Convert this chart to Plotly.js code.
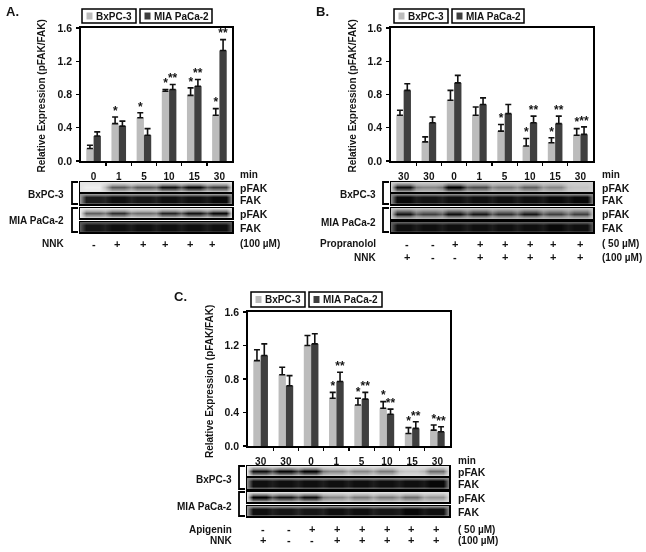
<!DOCTYPE html>
<html><head><meta charset="utf-8">
<script src="https://cdn.plot.ly/plotly-3.0.1.min.js"></script>
<style>html,body{margin:0;padding:0;background:#fff}#g{width:646px;height:552px;filter:blur(0.45px)}</style>
</head><body><div id="g"></div>
<script>
// ---------- data ----------
const legendNames = ['BxPC-3', 'MIA PaCa-2'];
const aLabels = ['0','1','5','10','15','30'];
const aBx  = [0.15,0.45,0.52,0.84,0.79,0.55];
const aBxE = [0.04,0.08,0.06,0.02,0.09,0.08];
const aMi  = [0.30,0.42,0.31,0.86,0.90,1.33];
const aMiE = [0.05,0.06,0.08,0.06,0.08,0.13];
const aBxS = ['','*','*','*','*','*'];
const aMiS = ['','','','**','**','**'];
const bLabels = ['30','30','0','1','5','10','15','30'];
const bBx  = [0.55,0.23,0.73,0.55,0.36,0.18,0.22,0.31];
const bBxE = [0.06,0.06,0.12,0.10,0.08,0.09,0.06,0.08];
const bMi  = [0.85,0.46,0.94,0.68,0.57,0.46,0.45,0.32];
const bMiE = [0.08,0.07,0.09,0.08,0.11,0.08,0.09,0.09];
const bBxS = ['','','','','*','*','*','*'];
const bMiS = ['','','','','','**','**','**'];
const cLabels = ['30','30','0','1','5','10','15','30'];
const cBx  = [1.02,0.85,1.20,0.57,0.49,0.45,0.15,0.19];
const cBxE = [0.13,0.09,0.12,0.07,0.08,0.08,0.07,0.06];
const cMi  = [1.08,0.72,1.22,0.77,0.56,0.38,0.21,0.17];
const cMiE = [0.14,0.12,0.12,0.11,0.08,0.06,0.08,0.06];
const cBxS = ['','','','*','*','*','*','*'];
const cMiS = ['','','','**','**','**','**','**'];
// band density per lane, and blot background density
const aBlots = [[0.06,0.62,0.62,0.9,0.95,0.75],[0.85,0.92,0.88,0.92,0.92,0.95],[0.6,0.78,0.55,0.82,0.9,0.95],[0.88,0.92,0.92,0.92,0.92,0.92]];
const aBg = [0.1,0.4,0.08,0.62];
const bBlots = [[0.92,0.45,1,0.68,0.5,0.6,0.45,0.22],[0.95,0.9,0.92,0.92,0.92,0.92,0.95,0.96],[0.9,0.72,0.92,0.88,0.78,0.88,0.72,0.72],[0.92,0.92,0.92,0.92,0.92,0.92,0.95,0.92]];
const bBg = [0.18,0.45,0.2,0.6];
const cBlots = [[0.92,0.96,0.98,0.45,0.45,0.5,0.22,0.55],[0.92,0.92,0.92,0.92,0.92,0.92,0.92,0.96],[1,0.88,0.92,0.45,0.5,0.5,0.55,0.4],[0.92,0.88,0.88,0.92,0.92,0.88,0.96,0.92]];
const cBg = [0.1,0.45,0.12,0.4];
const blotNames = ['pFAK','FAK','pFAK','FAK'];
const aNNK = ['-','+','+','+','+','+'];
const bProp = ['-','-','+','+','+','+','+','+'];
const bNNK  = ['+','-','-','+','+','+','+','+'];
const cApi  = ['-','-','+','+','+','+','+','+'];
const cNNK  = ['+','-','-','+','+','+','+','+'];
const yTicks = [0,0.4,0.8,1.2,1.6];

// ---------- layout helpers ----------
const W=646,H=552, FF='"Liberation Sans", Arial, sans-serif';
const px=x=>x/W, py=y=>1-y/H;
const LIGHT='#bcbcbc', DARK='#3f3f3f', INK='#141414';
const traces=[], annos=[], shapes=[], layout={};
function note(t,x,y,anchor,size){
  const nudge = anchor==='right'?1.5:(anchor==='center'?0:-1.5);
  annos.push({text:t,xref:'paper',yref:'paper',x:px(x+nudge),y:py(y),xanchor:anchor||'left',yanchor:'middle',showarrow:false,font:{family:FF,size:size||10,weight:700,color:INK}});
}
function panel(id,P){
  const xn='x'+id, yn='y'+id, xa='xaxis'+id, ya='yaxis'+id;
  const n=P.labels.length, idx=P.labels.map((_,i)=>i);
  [[P.bx,P.bxE,LIGHT,legendNames[0]],[P.mi,P.miE,DARK,legendNames[1]]].forEach(([v,e,c,nm])=>{
    traces.push({type:'bar',name:nm,x:idx,y:v,xaxis:xn,yaxis:yn,marker:{color:c,line:{width:0}},
      error_y:{type:'data',array:e,arrayminus:e.map(()=>0),symmetric:false,color:'#111',thickness:1.6,width:3},hoverinfo:'skip'});
  });
  [[P.bx,P.bxE,P.bxS,-0.14],[P.mi,P.miE,P.miS,0.14]].forEach(([v,e,s,o])=>{
    traces.push({type:'scatter',mode:'text',x:idx.map(i=>i+o),y:v.map((a,i)=>a+e[i]-0.01),text:s,textposition:'top center',
      textfont:{family:FF,size:12,weight:700,color:INK},xaxis:xn,yaxis:yn,hoverinfo:'skip',showlegend:false});
  });
  layout[xa]={domain:[px(P.l),px(P.r)],range:[-0.5,n-0.5],anchor:yn,tickmode:'array',tickvals:idx,ticktext:P.labels,ticks:'',
    ticklabelstandoff:5,tickfont:{family:FF,size:10,weight:700,color:INK},showgrid:false,zeroline:false,showline:true,mirror:true,linecolor:'#000',linewidth:1.8,
    minor:{tickmode:'array',tickvals:idx.slice(1).map(i=>i-0.5),ticks:'outside',ticklen:3,tickwidth:1.4,tickcolor:'#000',showgrid:false}};
  layout[ya]={domain:[py(P.b),py(P.t)],range:[0,1.6],anchor:xn,tickmode:'array',tickvals:yTicks,ticktext:yTicks.map(v=>v.toFixed(1)),ticks:'outside',ticklen:3,tickwidth:1.4,tickcolor:'#000',
    ticklabelstandoff:2,tickfont:{family:FF,size:10.5,weight:700,color:INK},showgrid:false,zeroline:false,showline:true,mirror:true,linecolor:'#000',linewidth:1.8,
    showticklabels:true};
  annos.push({text:'Relative Expression (pFAK/FAK)',xref:'paper',yref:'paper',x:px(P.titleX),y:py(P.titleY),xanchor:'center',yanchor:'middle',textangle:-90,showarrow:false,font:{family:FF,size:10,weight:700,color:INK}});
  // legend boxes
  const lg=P.legend;
  [[lg.a,lg.b,LIGHT,legendNames[0]],[lg.c,lg.d,DARK,legendNames[1]]].forEach(([x0,x1,c,nm])=>{
    shapes.push({type:'rect',xref:'paper',yref:'paper',x0:px(x0),x1:px(x1),y0:py(lg.y0),y1:py(lg.y1),line:{color:'#000',width:1.5},fillcolor:'#fff'});
    shapes.push({type:'rect',xref:'paper',yref:'paper',x0:px(x0+4.5),x1:px(x0+10.5),y0:py((lg.y0+lg.y1)/2-3.5),y1:py((lg.y0+lg.y1)/2+3.5),line:{width:0},fillcolor:c});
    note(nm,x0+13,(lg.y0+lg.y1)/2,'left',10);
  });
  note(P.letter,P.letterX,P.letterY,'left',13);
  note('min',P.rightX,P.minY,'left',10);
  // blots
  P.rows.forEach((r,k)=>{
    const bid=id*10+k, bx='x'+bid, by='y'+bid;
    const lanes=P.blots[k], bg=P.bg[k], zmid=[], gapK=k%2?0.92:0.72;
    lanes.forEach((d,i)=>{ zmid.push(i?(d+lanes[i-1])/2*gapK:bg, d, d, d); });
    zmid.push(bg);
    const xs=zmid.map((_,i)=>i/4-0.5);
    const edge=zmid.map(()=>bg);
    const half=zmid.map(d=>(d+bg)/2);
    const z = k%2 ? [edge,zmid,zmid,zmid,edge] : [edge,half,zmid,half,edge];
    traces.push({type:'heatmap',x:xs,y:[0,1,2,3,4],z:z,zmin:0,zmax:1,zsmooth:'best',showscale:false,hoverinfo:'skip',
      colorscale:[[0,'#ffffff'],[0.5,'#7a7a7a'],[0.85,'#1c1c1c'],[1,'#000000']],xaxis:bx,yaxis:by});
    const ax={showgrid:false,zeroline:false,showticklabels:false,ticks:'',showline:true,mirror:true,linecolor:'#000',linewidth:1.5};
    layout['xaxis'+bid]=Object.assign({domain:[px(P.bl),px(P.br)],range:[-0.5,n-0.5],anchor:by},ax);
    layout['yaxis'+bid]=Object.assign({domain:[py(r[1]),py(r[0])],range:[0,4],anchor:bx},ax);
    note(blotNames[k],P.rightX,(r[0]+r[1])/2+0.5,'left',10.5);
  });
  // brackets and cell-line labels
  P.brackets.forEach(([y0,y1,ly],k)=>{
    shapes.push({type:'path',xref:'paper',yref:'paper',path:`M ${px(P.bl-2)} ${py(y0)} L ${px(P.bl-8)} ${py(y0)} L ${px(P.bl-8)} ${py(y1)} L ${px(P.bl-2)} ${py(y1)}`,line:{color:'#000',width:1.8}});
    note(legendNames[k],P.nameX,ly,'right',10);
  });
  // treatment rows
  P.treat.forEach(t=>{
    note(t.name,P.nameX,t.y,'right',10);
    note(t.dose,P.rightX,t.y,'left',10);
    t.signs.forEach((s,i)=>note(s,P.signX[i],t.y,'center',11));
  });
}
panel(1,{labels:aLabels,bx:aBx,bxE:aBxE,mi:aMi,miE:aMiE,bxS:aBxS,miS:aMiS,l:81,r:232,t:28,b:161,titleX:41,titleY:96.5,
  legend:{a:82,b:136,c:140,d:212,y0:9,y1:23},letter:'A.',letterX:5,letterY:12,rightX:239,minY:175,
  bl:80,br:232,rows:[[182,192],[194,204],[208,218],[222,232]],blots:aBlots,bg:aBg,
  brackets:[[182,204,194],[208,232,220]],nameX:64,signX:[94,117,143,165,190,212],
  treat:[{name:'NNK',dose:'(100 µM)',y:244,signs:aNNK}]});
panel(2,{labels:bLabels,bx:bBx,bxE:bBxE,mi:bMi,miE:bMiE,bxS:bBxS,miS:bMiS,l:391,r:593,t:28,b:161,titleX:352,titleY:96.5,
  legend:{a:394,b:448,c:452,d:524,y0:9,y1:23},letter:'B.',letterX:315,letterY:12,rightX:601,minY:175,
  bl:391,br:593,rows:[[182,192],[194,204],[208,219],[222,232]],blots:bBlots,bg:bBg,
  brackets:[[182,204,194],[208,232,222]],nameX:376,signX:[407,433,455,480,505,530,553,580],
  treat:[{name:'Propranolol',dose:'( 50 µM)',y:244,signs:bProp},{name:'NNK',dose:'(100 µM)',y:257,signs:bNNK}]});
panel(3,{labels:cLabels,bx:cBx,bxE:cBxE,mi:cMi,miE:cMiE,bxS:cBxS,miS:cMiS,l:248,r:450,t:312,b:446,titleX:209,titleY:382,
  legend:{a:251,b:305,c:309,d:382,y0:292,y1:307},letter:'C.',letterX:173,letterY:296,rightX:457,minY:460,
  bl:247,br:449,rows:[[466,476],[478,489],[492,502],[506,516]],blots:cBlots,bg:cBg,
  brackets:[[466,489,479],[492,516,506]],nameX:233,signX:[263,289,312,337,362,387,411,436],
  treat:[{name:'Apigenin',dose:'( 50 µM)',y:529,signs:cApi},{name:'NNK',dose:'(100 µM)',y:540,signs:cNNK}]});

Object.assign(layout,{width:W,height:H,margin:{l:0,r:0,t:0,b:0},paper_bgcolor:'#fff',plot_bgcolor:'#fff',showlegend:false,
  barmode:'group',bargap:0.42,bargroupgap:0,annotations:annos,shapes:shapes,font:{family:FF}});
Plotly.newPlot('g',traces,layout,{staticPlot:true,displayModeBar:false});
</script></body></html>
